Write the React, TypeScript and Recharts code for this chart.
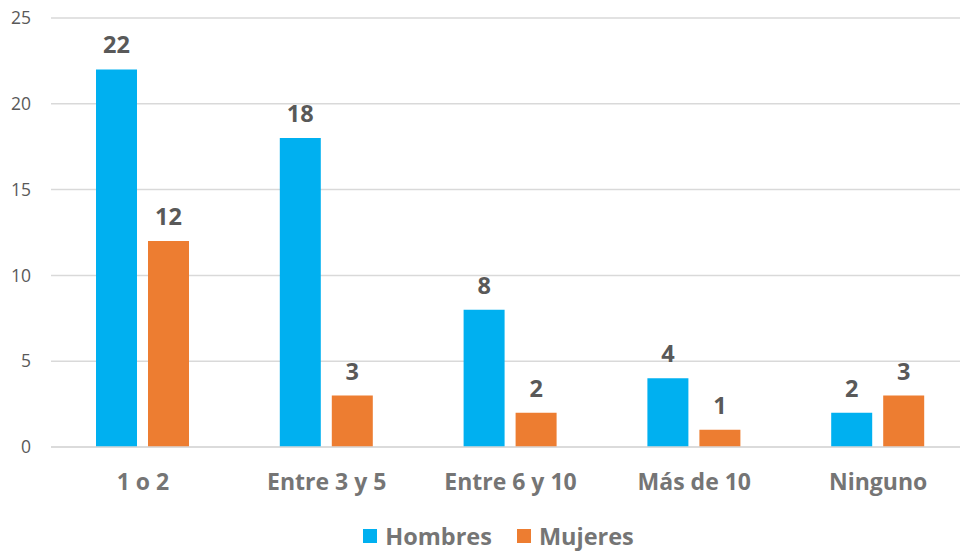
import { Bar, BarChart, CartesianGrid, LabelList, Legend, XAxis, YAxis } from 'recharts';

const categories = ['1 o 2', 'Entre 3 y 5', 'Entre 6 y 10', 'Más de 10', 'Ninguno'];
const hombres = [22, 18, 8, 4, 2];
const mujeres = [12, 3, 2, 1, 3];
const yTicks = [0, 5, 10, 15, 20, 25];

const data = categories.map((name, i) => ({ name, Hombres: hombres[i], Mujeres: mujeres[i] }));

const FONT = '"Open Sans", Calibri, sans-serif';
const TEXT = '#595959';
const SOFT = '#757575';
const BLUE = '#00B0F0';
const ORANGE = '#ED7D31';

function LegendBox() {
  const items = [
    { label: 'Hombres', color: BLUE },
    { label: 'Mujeres', color: ORANGE },
  ];
  return (
    <div style={{ display: 'flex', justifyContent: 'center', gap: 25, paddingLeft: 27, paddingTop: 13, fontFamily: FONT }}>
      {items.map((it) => (
        <div key={it.label} style={{ display: 'flex', alignItems: 'center', gap: 8 }}>
          <span style={{ width: 14, height: 14, background: it.color, display: 'inline-block' }} />
          <span style={{ fontSize: 23.5, fontWeight: 700, color: SOFT }}>{it.label}</span>
        </div>
      ))}
    </div>
  );
}

export default function App() {
  return (
    <div style={{ position: 'absolute', left: 0, top: 0, width: 960, height: 554, overflow: 'hidden', background: '#fff' }}>
      <BarChart
        width={970}
        height={554}
        data={data}
        margin={{ top: 18, right: 0, left: 0, bottom: 0 }}
        barSize={41}
        barGap={11}
      >
        <CartesianGrid vertical={false} stroke="#D9D9D9" strokeWidth={1.5} />
        <YAxis
          width={51}
          domain={[0, 25]}
          ticks={yTicks}
          axisLine={false}
          tickLine={false}
          tickSize={0}
          tickMargin={20}
          tick={{ fill: TEXT, fontSize: 17.5, fontFamily: FONT }}
        />
        <XAxis
          dataKey="name"
          height={60}
          axisLine={{ stroke: '#D9D9D9', strokeWidth: 1.5 }}
          tickLine={false}
          tickSize={0}
          tickMargin={27}
          tick={{ fill: SOFT, fontSize: 23, fontWeight: 700, fontFamily: FONT }}
        />
        <Legend verticalAlign="bottom" height={47} content={() => <LegendBox />} />
        <Bar dataKey="Hombres" fill={BLUE} isAnimationActive={false}>
          <LabelList dataKey="Hombres" position="top" offset={16} fill={TEXT} fontSize={23.5} fontWeight={700} fontFamily={FONT} />
        </Bar>
        <Bar dataKey="Mujeres" fill={ORANGE} isAnimationActive={false}>
          <LabelList dataKey="Mujeres" position="top" offset={16} fill={TEXT} fontSize={23.5} fontWeight={700} fontFamily={FONT} />
        </Bar>
      </BarChart>
    </div>
  );
}
